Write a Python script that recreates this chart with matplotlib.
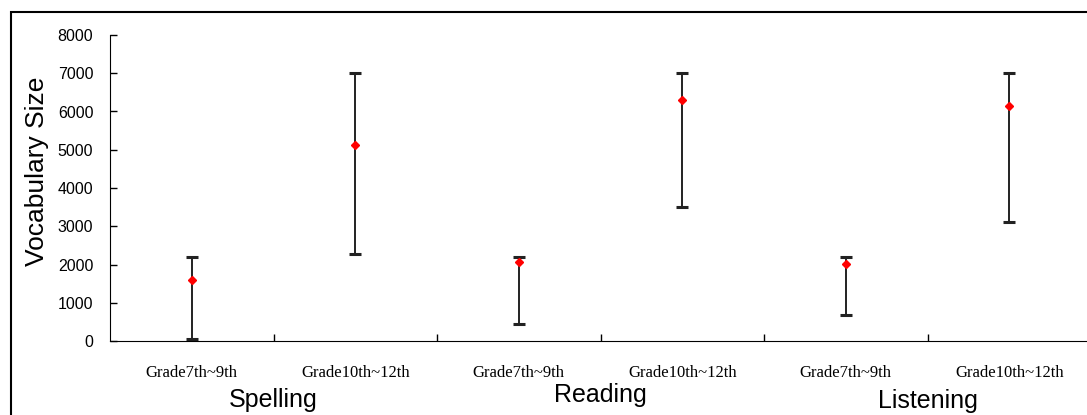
import numpy as np
import matplotlib.pyplot as plt
from matplotlib.patches import Rectangle

# data
grades = ["Grade7th~9th", "Grade10th~12th"] * 3
skills = ["Spelling", "Reading", "Listening"]
means = [1600, 5130, 2060, 6300, 2020, 6140]
highs = [2200, 7000, 2200, 7000, 2200, 7000]
lows = [50, 2280, 440, 3500, 680, 3120]

x = np.arange(len(means))
means = np.array(means)
lo_err = means - np.array(lows)
hi_err = np.array(highs) - means

fig = plt.figure(figsize=(10.87, 4.15), dpi=100)
# outer frame around the whole picture
fig.patches.append(Rectangle((11/1087, -0.05), 1.2, 1 - 12/415 + 0.05,
                             transform=fig.transFigure, fill=False,
                             edgecolor="black", linewidth=1.5))

ax = fig.add_axes([110/1087, 1 - 341/415, 981/1087, 306/415])
ax.errorbar(x, means, yerr=[lo_err, hi_err], fmt="none", ecolor="#222222",
            elinewidth=1.4, capsize=4.5, capthick=2.2)
ax.plot(x, means, "D", color="red", markersize=4.5, zorder=3)

ax.set_xlim(-0.5, 5.5)
ax.set_ylim(0, 8000)
ax.set_yticks(np.arange(0, 8001, 1000))
ax.set_xticks(np.arange(0.5, 5, 1))
ax.set_xticklabels([])
ax.tick_params(axis="both", direction="in", length=5, width=1)
ax.tick_params(axis="y", labelsize=11.5, pad=12)
for lab in ax.get_yticklabels():
    lab.set_family("Liberation Sans")
for s in ["top", "right"]:
    ax.spines[s].set_visible(False)

# category labels in serif
for i, g in enumerate(grades):
    ax.text(x[i], -840, g, ha="center", va="center",
            family="Liberation Serif", fontsize=12)
skill_y = [-1530, -1420, -1560]
for j, s in enumerate(skills):
    ax.text(2 * j + 0.5, skill_y[j], s, ha="center", va="center",
            family="Liberation Sans", fontsize=18)

ax.set_ylabel("Vocabulary Size", family="Liberation Sans", fontsize=19)
ax.yaxis.set_label_coords(-0.062, 0.555)

fig.savefig("out.png", dpi=100)
